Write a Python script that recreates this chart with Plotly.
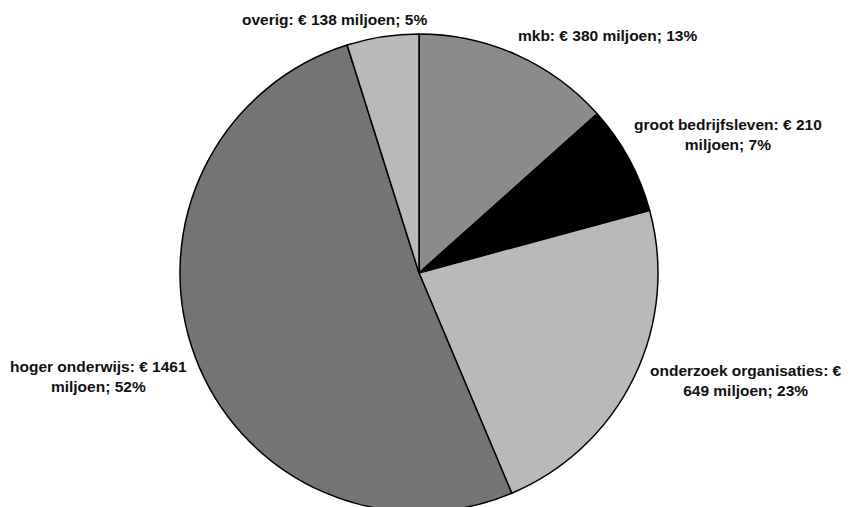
import plotly.graph_objects as go

categories = ["mkb", "groot bedrijfsleven", "onderzoek organisaties", "hoger onderwijs", "overig"]
values = [380, 210, 649, 1461, 138]
percents = [13, 7, 23, 52, 5]
colors = ["#8b8b8b", "#000000", "#b9b9b9", "#747474", "#b9b9b9"]

# label wrapping (where the original breaks lines) and label centre positions in pixels
label_breaks = [None, "miljoen", "649", "miljoen", None]
label_pos = [(607, 36), (728, 135), (746, 380), (98, 376), (334, 19)]

W, H = 858, 507
OFF = 8  # page body offset
CX, CY, R = 419 - OFF, 273 - OFF, 239

fig = go.Figure(go.Pie(
    labels=categories,
    values=values,
    marker=dict(colors=colors, line=dict(color="#000000", width=1.5)),
    sort=False,
    direction="clockwise",
    rotation=0,
    textinfo="none",
    hoverinfo="label+value+percent",
    domain=dict(x=[(CX - R) / W, (CX + R) / W],
                y=[(H - CY - R) / H, (H - CY + R) / H]),
    showlegend=False,
))

annotations = []
for cat, val, pct, brk, (px, py) in zip(categories, values, percents, label_breaks, label_pos):
    txt = f"{cat}: € {val} miljoen; {pct}%"
    if brk:
        i = txt.index(brk)
        txt = txt[:i].rstrip() + "<br>" + txt[i:]
    annotations.append(dict(
        text=f"<b>{txt}</b>", x=(px - OFF) / W, y=1 - (py - OFF) / H, xref="paper", yref="paper",
        xanchor="center", yanchor="middle", align="center", showarrow=False,
        font=dict(family="Liberation Sans, Arial, sans-serif", size=15.5, color="#111111"),
    ))

fig.update_layout(
    width=W, height=H,
    margin=dict(l=0, r=0, t=0, b=0),
    paper_bgcolor="#ffffff",
    plot_bgcolor="#ffffff",
    annotations=annotations,
)

fig.write_html("out.html")
